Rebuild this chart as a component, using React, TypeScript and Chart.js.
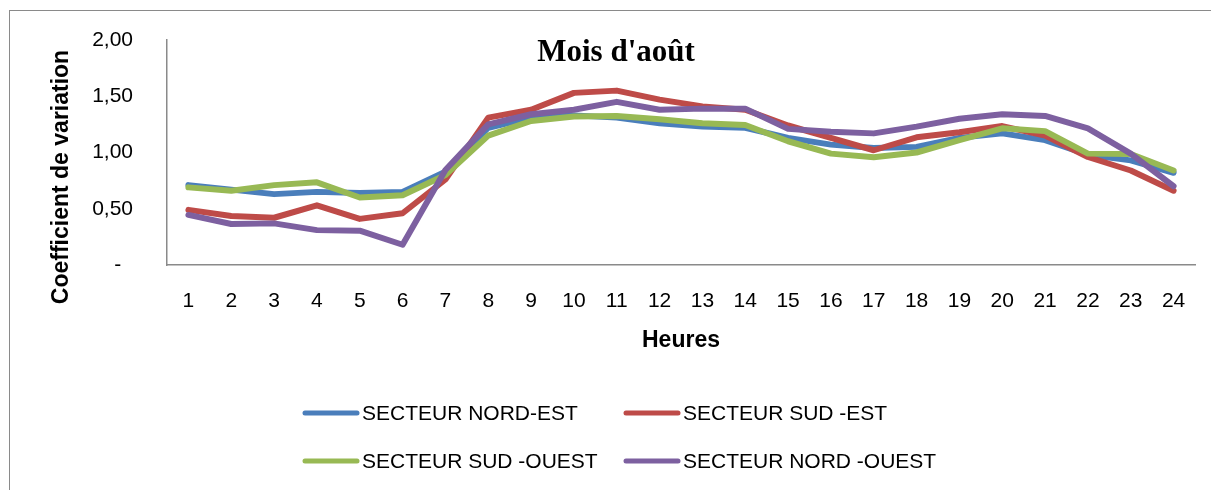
import React, { useEffect, useRef } from "react";
import { Chart, registerables } from "chart.js";

Chart.register(...registerables);

const hours = ["1","2","3","4","5","6","7","8","9","10","11","12","13","14","15","16","17","18","19","20","21","22","23","24"];

const nordEst = [0.71,0.67,0.63,0.65,0.64,0.65,0.83,1.22,1.31,1.33,1.31,1.26,1.23,1.22,1.13,1.07,1.04,1.05,1.13,1.17,1.11,0.98,0.93,0.82];
const sudEst = [0.49,0.435,0.42,0.53,0.41,0.46,0.76,1.31,1.38,1.53,1.55,1.47,1.41,1.38,1.24,1.13,1.02,1.135,1.18,1.235,1.15,0.96,0.84,0.66];
const sudOuest = [0.69,0.66,0.71,0.735,0.6,0.62,0.8,1.15,1.28,1.32,1.325,1.295,1.26,1.245,1.1,0.99,0.957,1.0,1.11,1.215,1.19,0.99,0.987,0.84];
const nordOuest = [0.445,0.364,0.37,0.31,0.305,0.18,0.845,1.25,1.34,1.38,1.45,1.38,1.39,1.39,1.21,1.185,1.17,1.23,1.3,1.34,1.325,1.215,0.99,0.7];

const seriesNames = ["SECTEUR NORD-EST", "SECTEUR SUD -EST", "SECTEUR SUD -OUEST", "SECTEUR NORD -OUEST"];
const seriesColors = ["#4A7EBB", "#BE4B48", "#98B954", "#7D60A0"];

const titleText = "Mois d'août";
const xTitle = "Heures";
const yTitle = "Coefficient de variation";

const SANS = "'Liberation Sans', Arial, sans-serif";

const decorPlugin = {
  id: "decor",
  beforeDraw(chart: any) {
    const ctx = chart.ctx;
    ctx.save();
    ctx.fillStyle = "#ffffff";
    ctx.fillRect(0, 0, chart.width, chart.height);
    ctx.strokeStyle = "#8a8a8a";
    ctx.lineWidth = 1;
    ctx.strokeRect(9.5, 10.5, 1300, 600);
    ctx.restore();
  },
  afterDraw(chart: any) {
    const ctx = chart.ctx;
    ctx.save();
    // title
    ctx.fillStyle = "#000";
    ctx.font = "bold 31px 'Liberation Serif', 'Times New Roman', serif";
    ctx.textAlign = "center";
    ctx.textBaseline = "alphabetic";
    ctx.fillText(titleText, 616, 61);
    // x title
    ctx.font = `bold 23px ${SANS}`;
    ctx.textBaseline = "middle";
    ctx.fillText(xTitle, 681, 341);
    // y title
    ctx.save();
    ctx.translate(62, 177);
    ctx.rotate(-Math.PI / 2);
    ctx.fillText(yTitle, 0, 0);
    ctx.restore();
    // legend
    const pos = [
      { x: 305, y: 413 },
      { x: 626, y: 413 },
      { x: 305, y: 461 },
      { x: 626, y: 461 },
    ];
    ctx.font = `21px ${SANS}`;
    ctx.textAlign = "left";
    ctx.textBaseline = "middle";
    seriesNames.forEach((name, i) => {
      const p = pos[i];
      ctx.strokeStyle = seriesColors[i];
      ctx.lineWidth = 5;
      ctx.lineCap = "round";
      ctx.beginPath();
      ctx.moveTo(p.x, p.y);
      ctx.lineTo(p.x + 52, p.y);
      ctx.stroke();
      ctx.fillStyle = "#000";
      ctx.fillText(name, p.x + 57, p.y + 1);
    });
    ctx.restore();
  },
};

export default function App() {
  const ref = useRef<HTMLCanvasElement>(null);
  useEffect(() => {
    if (!ref.current) return;
    const all = [nordEst, sudEst, sudOuest, nordOuest];
    const chart = new Chart(ref.current, {
      type: "line",
      data: {
        labels: hours,
        datasets: all.map((d, i) => ({
          label: seriesNames[i],
          data: d,
          borderColor: seriesColors[i],
          backgroundColor: seriesColors[i],
          borderWidth: 6,
          pointRadius: 0,
          tension: 0,
          fill: false,
          borderCapStyle: "round" as const,
          borderJoinStyle: "round" as const,
          order: 4 - i,
        })),
      },
      options: {
        responsive: false,
        animation: false,
        devicePixelRatio: 1,
        layout: { padding: { left: 0, top: 40, right: 16, bottom: 135 } },
        plugins: {
          legend: { display: false },
          title: { display: false },
          tooltip: { enabled: false },
        },
        scales: {
          x: {
            type: "category",
            offset: true,
            grid: { display: false, drawTicks: false },
            border: { display: true, color: "#8a8a8a", width: 1.5 },
            ticks: {
              color: "#000",
              font: { family: SANS, size: 21 },
              padding: 24,
              maxRotation: 0,
              autoSkip: false,
            },
            afterFit: (s: any) => {
              s.height = 90;
              s.paddingLeft = 0;
              s.paddingRight = 0;
            },
          },
          y: {
            min: 0,
            max: 2,
            grid: { display: false, drawTicks: false },
            border: { display: true, color: "#8a8a8a", width: 1.5 },
            ticks: {
              stepSize: 0.5,
              color: "#000",
              font: { family: SANS, size: 21 },
              padding: 34,
              callback: (v: any) => (Number(v) === 0 ? "-  " : Number(v).toFixed(2).replace(".", ",")),
            },
            afterFit: (s: any) => {
              s.width = 167;
              s.paddingTop = 0;
              s.paddingBottom = 0;
            },
          },
        },
      },
      plugins: [decorPlugin],
    });
    return () => chart.destroy();
  }, []);
  return (
    <div style={{ position: "absolute", left: 0, top: 0, width: 1211, height: 490 }}>
      <canvas ref={ref} width={1211} height={490} style={{ display: "block" }} />
    </div>
  );
}
